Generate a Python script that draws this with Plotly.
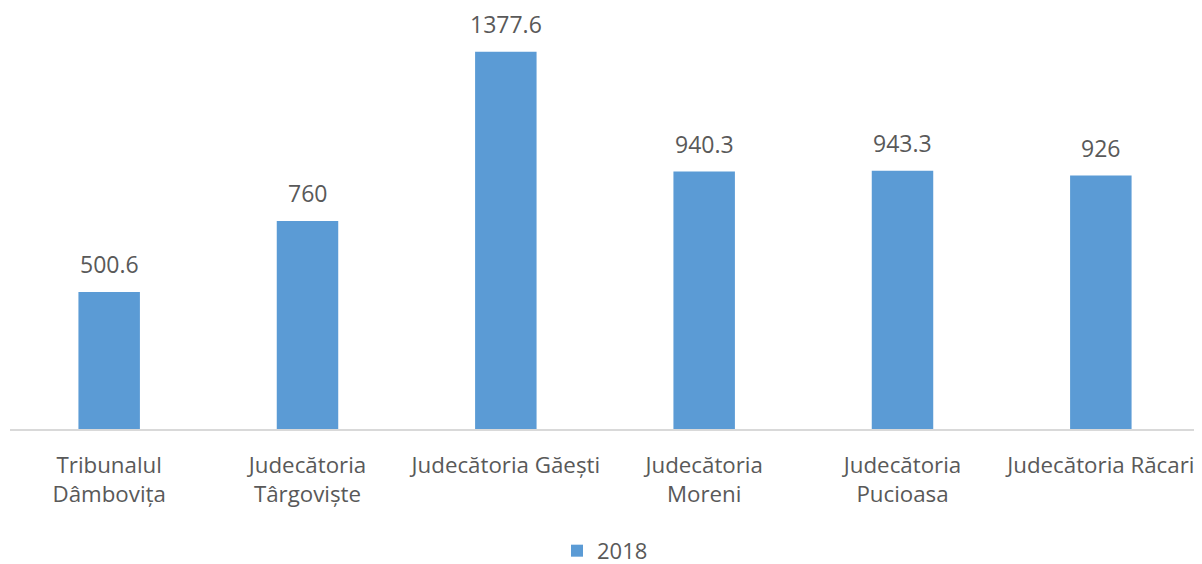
import plotly.graph_objects as go

categories = ["Tribunalul<br>Dâmbovița", "Judecătoria<br>Târgoviște", "Judecătoria Găești",
              "Judecătoria<br>Moreni", "Judecătoria<br>Pucioasa", "Judecătoria Răcari"]
values_2018 = [500.6, 760, 1377.6, 940.3, 943.3, 926]
value_labels = ["500.6", "760", "1377.6", "940.3", "943.3", "926"]
series_name = "2018"

FONT = "Open Sans, Noto Sans, sans-serif"
GREY = "#595959"

fig = go.Figure()
fig.add_trace(go.Bar(
    x=categories, y=values_2018, name=series_name,
    marker=dict(color="#5B9BD5", line=dict(width=0)),
    width=0.31,
))

annotations = []
for c, v, t in zip(categories, values_2018, value_labels):
    annotations.append(dict(x=c, y=v, xref="x", yref="y", text=t, showarrow=False,
                            yanchor="middle", yshift=28,
                            font=dict(family=FONT, size=23, color=GREY)))

# page body has an 8px default margin; figure sized to fit the 1202x564 window
fig.update_layout(
    width=1194, height=556,
    margin=dict(l=2, r=2, t=12, b=135, autoexpand=False),
    paper_bgcolor="white", plot_bgcolor="white",
    showlegend=True,
    legend=dict(orientation="h", x=0.5, xanchor="center", y=-0.298, yanchor="middle",
                font=dict(family=FONT, size=22, color=GREY), itemwidth=30),
    annotations=annotations,
    xaxis=dict(showline=True, linecolor="#d9d9d9", linewidth=1.5, showgrid=False,
               automargin=False,
               ticks="outside", ticklen=15, tickcolor="rgba(0,0,0,0)",
               tickfont=dict(family=FONT, size=22.3, color=GREY)),
    yaxis=dict(range=[0, 1494], visible=False, showgrid=False, zeroline=False),
    bargap=0.69,
)

fig.write_html("out.html")
